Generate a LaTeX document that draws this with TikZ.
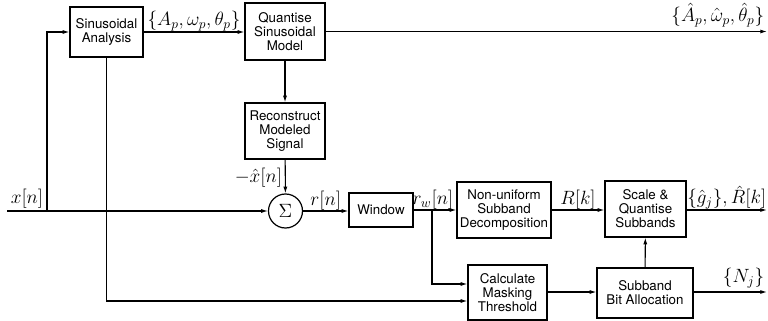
\documentclass[tikz,border=0pt]{standalone}
\usepackage{fontspec}
\setsansfont{TeX Gyre Heros}
\usepackage{tikz}
\usetikzlibrary{positioning, arrows.meta, calc}

\begin{document}
\begin{tikzpicture}[x=0.75pt, y=-0.75pt, line width=0.8pt,
    font=\sffamily\fontsize{10}{10.5}\selectfont,
    blk/.style={draw, line width=0.9pt, align=center, inner sep=1pt},
    sig/.style={-{Latex[length=5pt, width=3pt]}},
    lbl/.style={font=\Large, inner sep=1pt}]
    \useasboundingbox (0,0) rectangle (768,321);
    % top path: analysis -> quantiser -> reconstruction
    \node[blk, minimum width=54.75pt, minimum height=37.5pt] (ana) at (106.5,32) {Sinusoidal\\Analysis};
    \node[blk, minimum width=60pt, minimum height=42.75pt] (qnt) at (285,31.5) {Quantise\\Sinusoidal\\Model};
    \node[blk, minimum width=60pt, minimum height=42pt] (rec) at (285,131) {Reconstruct\\Modeled\\Signal};
    \node[draw, circle, line width=0.9pt, minimum size=25.5pt, inner sep=0pt, font=\Large] (sum) at (285.5,211) {$\Sigma$};
    % residual path
    \node[blk, minimum width=48pt, minimum height=25.5pt] (win) at (381,210) {Window};
    \node[blk, minimum width=70.5pt, minimum height=42pt] (dec) at (504,210) {Non-uniform\\Subband\\Decomposition};
    \node[blk, minimum width=60.75pt, minimum height=42pt] (sqs) at (645.5,209) {Scale \&\\Quantise\\Subbands};
    \node[blk, minimum width=59.25pt, minimum height=41.25pt] (msk) at (507.5,292.5) {Calculate\\Masking\\Threshold};
    \node[blk, minimum width=72pt, minimum height=37.5pt] (bit) at (645,293) {Subband\\Bit Allocation};
    % free ends and branch points
    \coordinate (xin) at (7,211);
    \coordinate (br1) at (47,211);
    \coordinate (br2) at (432,210);
    \coordinate (out1) at (767,32);
    \coordinate (out2) at (767,210);
    \coordinate (out3) at (767,292);

    \draw (xin) -- (br1);
    \draw[sig] (br1) -- (sum.west);
    \node[lbl, anchor=south] at (27,210) {$x[n]$};
    \draw[sig] (br1) |- (ana.west);
    \draw[sig] (ana.east) -- (ana.east -| qnt.west) node[lbl, midway, above=-1pt] {$\{A_p,\omega_p,\theta_p\}$};
    \draw[sig] (qnt.east) -- (qnt.east -| out1);
    \node[lbl, anchor=south east] at (766,29) {$\{\hat{A}_p,\hat{\omega}_p,\hat{\theta}_p\}$};
    \draw[sig] (qnt) -- (rec);
    \draw[sig] (rec) -- (sum) node[lbl, pos=0.55, left=1pt] {$-\hat{x}[n]$};
    \draw[sig] (sum.east) -- (sum.east -| win.west) node[lbl, midway, above=-1pt] {$r[n]$};
    \draw[sig] (win) -- (dec) node[lbl, pos=0.45, above=-1pt] {$r_w[n]$};
    \draw[sig] (br2) |- ($(msk.west)+(0,-8.5)$);
    \draw[sig] (ana.south) |- ($(msk.west)+(0,8.5)$);
    \draw[sig] (dec.east) -- (dec.east -| sqs.west) node[lbl, midway, above=-1pt] {$R[k]$};
    \draw[sig] (sqs.east |- out2) -- (out2) node[lbl, midway, above=-1pt] {$\{\hat{g}_j\},\hat{R}[k]$};
    \draw[sig] (msk.east |- out3) -- (bit.west |- out3);
    \draw[sig] (bit) -- (sqs);
    \draw[sig] (bit.east |- out3) -- (out3);
    \node[lbl, anchor=south east] at (766,290) {$\{N_j\}$};
\end{tikzpicture}
\end{document}
